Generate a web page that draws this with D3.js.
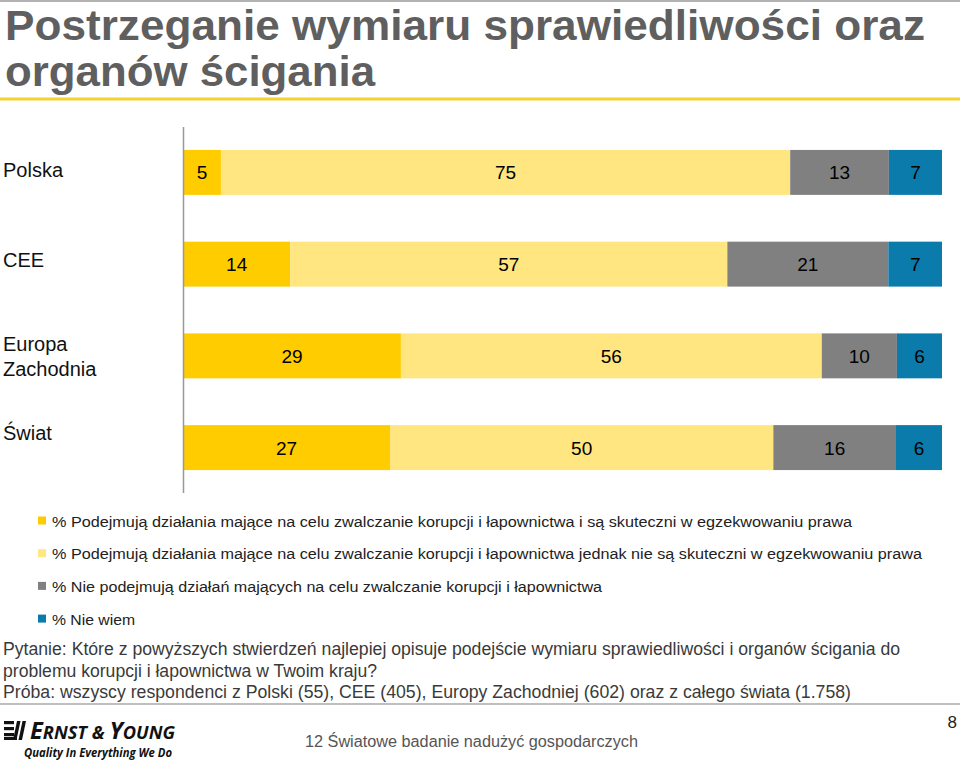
<!DOCTYPE html>
<html><head><meta charset="utf-8">
<script src="https://cdn.jsdelivr.net/npm/d3@7"></script>
<style>body{margin:0;background:#fff}svg{display:block}</style>
</head><body>
<script>
const categories = [["Polska"], ["CEE"], ["Europa", "Zachodnia"], ["Świat"]];
const catKeys = ["Polska", "CEE", "Europa Zachodnia", "Świat"];
const seriesNames = [
  "% Podejmują działania mające na celu zwalczanie korupcji i łapownictwa i są skuteczni w egzekwowaniu prawa",
  "% Podejmują działania mające na celu zwalczanie korupcji i łapownictwa jednak nie są skuteczni w egzekwowaniu prawa",
  "% Nie podejmują działań mających na celu zwalczanie korupcji i łapownictwa",
  "% Nie wiem"
];
const effective = [5, 14, 29, 27];
const notEffective = [75, 57, 56, 50];
const noAction = [13, 21, 10, 16];
const dontKnow = [7, 7, 6, 6];
const colors = ["#FFCC00", "#FFE680", "#808080", "#0A7BAA"];
const titleLines = ["Postrzeganie wymiaru sprawiedliwości oraz", "organów ścigania"];
const noteLines = [
  "Pytanie: Które z powyższych stwierdzeń najlepiej opisuje podejście wymiaru sprawiedliwości i organów ścigania do",
  "problemu korupcji i łapownictwa w Twoim kraju?",
  "Próba: wszyscy respondenci z Polski (55), CEE (405), Europy Zachodniej (602) oraz z całego świata (1.758)"
];
const footerText = "12 Światowe badanie nadużyć gospodarczych";
const pageNum = "8";

const W = 960, H = 761;
const svg = d3.select("body").append("svg").attr("width", W).attr("height", H);
const sans = "Arial, 'Liberation Sans', sans-serif";

// top line
svg.append("line").attr("x1",0).attr("x2",W).attr("y1",1).attr("y2",1).attr("stroke","#999").attr("stroke-width",1.5);
// title
const titleLen = [920, 370];
titleLines.forEach((t,i)=>{
  svg.append("text").attr("x",5).attr("y",40+i*46).text(t)
    .attr("font-family","'Liberation Sans Narrow','Arial Narrow',"+sans)
    .attr("font-weight","bold").attr("font-size",43).attr("fill","#5f5f5f")
    .attr("textLength",titleLen[i]).attr("lengthAdjust","spacingAndGlyphs");
});
svg.append("line").attr("x1",0).attr("x2",W).attr("y1",99).attr("y2",99).attr("stroke","#F5D22E").attr("stroke-width",3);

// data
const data = catKeys.map((k,i)=>({key:k, lines:categories[i], vals:[effective[i], notEffective[i], noAction[i], dontKnow[i]]}));
const x = d3.scaleLinear().domain([0,1]).range([183,942]);
const y = d3.scaleBand().domain(catKeys).range([127,493]).paddingInner(0.51).paddingOuter(0.25);

const stack = d3.stack().keys([0,1,2,3]).value((d,k)=>d.vals[k]).offset(d3.stackOffsetExpand);
const layers = stack(data);

const g = svg.append("g");
layers.forEach((layer,li)=>{
  g.selectAll(null).data(layer).enter().append("rect")
    .attr("x",d=>x(d[0])).attr("width",d=>x(d[1])-x(d[0]))
    .attr("y",d=>y(d.data.key)).attr("height",y.bandwidth())
    .attr("fill",colors[li]);
  g.selectAll(null).data(layer).enter().append("text")
    .attr("x",d=>(x(d[0])+x(d[1]))/2).attr("y",d=>y(d.data.key)+y.bandwidth()/2+7)
    .attr("text-anchor","middle").attr("font-family",sans).attr("font-size",19).attr("fill","#000")
    .text(d=>d.data.vals[li]);
});
// axis line
svg.append("line").attr("x1",183.5).attr("x2",183.5).attr("y1",127).attr("y2",493).attr("stroke","#999").attr("stroke-width",1.5);

// category labels
const labOff = {"Polska":4.5, "CEE":2.5, "Świat":-7.5};
data.forEach(d=>{
  const cy = y(d.key)+y.bandwidth()/2;
  const n = d.lines.length;
  d.lines.forEach((l,j)=>{
    svg.append("text").attr("x",3).attr("y", n===1 ? cy+labOff[d.key] : cy-5+j*25)
      .attr("font-family",sans).attr("font-size",20).attr("fill","#111").text(l);
  });
});

// legend
const legLen = [800, 870, 550, 83];
seriesNames.forEach((s,i)=>{
  const cy = 521 + i*32.7;
  svg.append("rect").attr("x",38).attr("y",cy-4.5).attr("width",8).attr("height",8).attr("fill",colors[i]);
  svg.append("text").attr("x",52).attr("y",cy+5.5).attr("font-family",sans).attr("font-size",15.5).attr("fill","#222")
    .attr("textLength",legLen[i]).attr("lengthAdjust","spacingAndGlyphs").text(s);
});

// notes
const noteLen = [897, 374, 848];
noteLines.forEach((t,i)=>{
  svg.append("text").attr("x",3).attr("y",655+i*21.5).attr("font-family",sans).attr("font-size",17.5).attr("fill","#3a3a3a")
    .attr("textLength",noteLen[i]).attr("lengthAdjust","spacingAndGlyphs").text(t);
});
svg.append("line").attr("x1",0).attr("x2",W).attr("y1",704).attr("y2",704).attr("stroke","#aaa").attr("stroke-width",1.5);

// footer
svg.append("text").attr("x",305).attr("y",747).attr("font-family",sans).attr("font-size",16).attr("fill","#555")
  .attr("textLength",333).attr("lengthAdjust","spacingAndGlyphs").text(footerText);
svg.append("text").attr("x",957).attr("y",728).attr("text-anchor","end").attr("font-family",sans).attr("font-size",17).attr("fill","#222").text(pageNum);

// logo
const lg = svg.append("g").attr("fill","#111");
[721,727,733].forEach(yy=>lg.append("rect").attr("x",4).attr("y",yy).attr("width",10).attr("height",3.2));
lg.append("path").attr("d","M17,721 L20.5,721 L16.5,740 L13,740 Z");
lg.append("path").attr("d","M22.5,721 L26,721 L22,740 L18.5,740 Z");
lg.append("rect").attr("x",4).attr("y",737).attr("width",13).attr("height",3);
const lt = svg.append("text").attr("x",30).attr("y",739).attr("font-family","'Open Sans',"+sans).attr("font-weight","bold").attr("font-style","italic").attr("fill","#111")
  .attr("textLength",145).attr("lengthAdjust","spacingAndGlyphs");
lt.append("tspan").attr("font-size",24).text("E");
lt.append("tspan").attr("font-size",18.5).text("RNST & ");
lt.append("tspan").attr("font-size",24).text("Y");
lt.append("tspan").attr("font-size",18.5).text("OUNG");
svg.append("text").attr("x",24).attr("y",757).attr("font-family","'Open Sans',"+sans).attr("font-weight","bold").attr("font-style","italic")
  .attr("font-size",13).attr("fill","#111").attr("textLength",148).attr("lengthAdjust","spacingAndGlyphs").text("Quality In Everything We Do");
</script>
</body></html>
